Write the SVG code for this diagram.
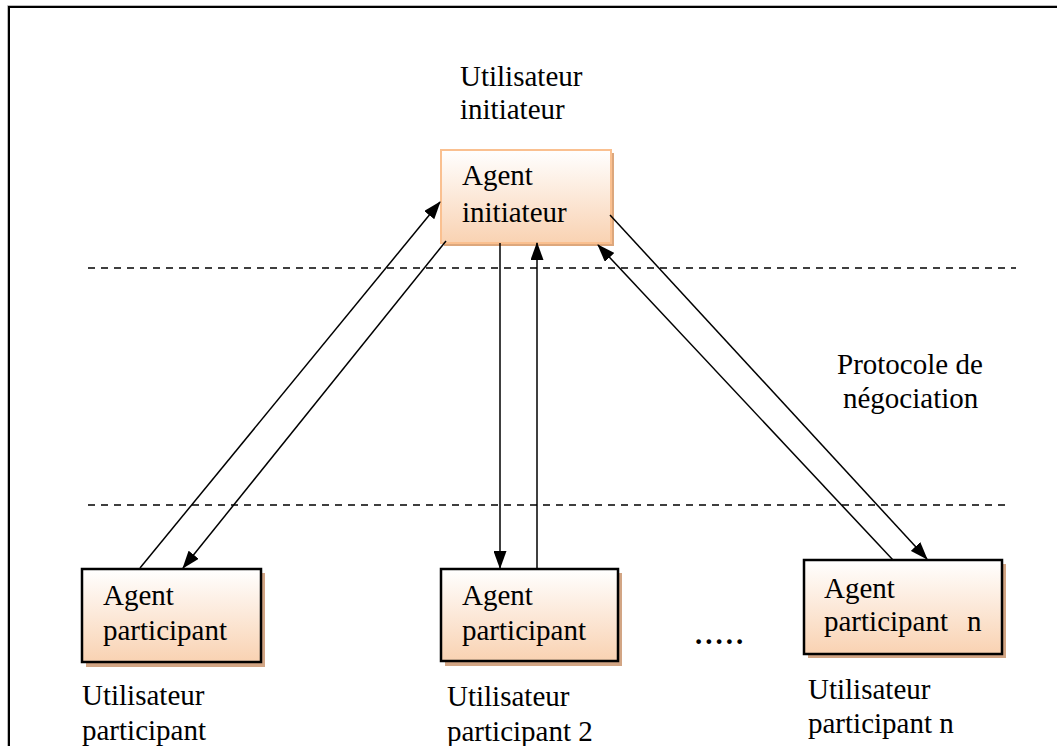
<svg xmlns="http://www.w3.org/2000/svg" width="1057" height="746" viewBox="0 0 1057 746">
<style>
text{font-family:"Liberation Serif","Times New Roman",serif;font-size:29px;fill:#000}
.dash{stroke:#000;stroke-width:1.5;stroke-dasharray:7 6;fill:none}
.conn{stroke:#000;stroke-width:1.5;fill:none}
.pbox{fill:url(#gp);stroke:#000;stroke-width:2.5}
.pshadow{fill:#D2A584}
</style>
<defs>
<linearGradient id="gp" x1="0" y1="0" x2="0" y2="1">
<stop offset="0" stop-color="#FFFFFF"/>
<stop offset="1" stop-color="#F9D2B2"/>
</linearGradient>
<marker id="ah" markerWidth="18" markerHeight="13" refX="17" refY="6.5" orient="auto" markerUnits="userSpaceOnUse">
<path d="M0,0 L18,6.5 L0,13 Z" fill="#000"/>
</marker>
</defs>
<rect width="1057" height="746" fill="#fff"/>
<g id="frame">
<path d="M7.5,746 V5.5 H1057" stroke="#bbb" stroke-width="1" fill="none"/>
<path d="M9,746 V7 H1057" stroke="#000" stroke-width="2" fill="none"/>
</g>
<g id="separators">
<line class="dash" x1="88" y1="268" x2="1016" y2="268"/>
<line class="dash" x1="88" y1="505" x2="1010" y2="505"/>
</g>
<g id="label-initiateur">
<text x="460" y="86">Utilisateur</text>
<text x="460" y="119">initiateur</text>
</g>
<g id="agent-initiateur">
<rect x="444" y="153" width="170" height="93" fill="#DDA77C"/>
<rect x="441" y="150" width="170" height="93" fill="url(#gp)" stroke="#FAC090" stroke-width="2"/>
<text x="462" y="185">Agent</text>
<text x="462" y="222">initiateur</text>
</g>
<g id="label-protocole">
<text x="837" y="374">Protocole de</text>
<text x="843" y="408">négociation</text>
</g>
<g id="agent-participant-1">
<rect class="pshadow" x="86" y="573" width="179" height="94"/>
<rect class="pbox" x="82" y="569" width="179" height="93"/>
<text x="103" y="605">Agent</text>
<text x="103" y="640">participant</text>
</g>
<g id="label-participant-1">
<text x="82" y="705">Utilisateur</text>
<text x="82" y="740">participant</text>
</g>
<g id="agent-participant-2">
<rect class="pshadow" x="445" y="573" width="177" height="93"/>
<rect class="pbox" x="441" y="569" width="177" height="92"/>
<text x="462" y="605">Agent</text>
<text x="462" y="640">participant</text>
</g>
<g id="label-participant-2">
<text x="447" y="706">Utilisateur</text>
<text x="447" y="741">participant 2</text>
</g>
<g id="agent-participant-n">
<rect class="pshadow" x="808" y="564" width="198" height="94"/>
<rect class="pbox" x="804" y="560" width="198" height="94"/>
<text x="824" y="598">Agent</text>
<text x="824" y="631">participant<tspan x="967">n</tspan></text>
</g>
<g id="label-participant-n">
<text x="808" y="699">Utilisateur</text>
<text x="808" y="733">participant n</text>
</g>
<g id="ellipsis">
<text x="695" y="644" font-weight="bold" font-size="32" letter-spacing="3">.....</text>
</g>
<g id="connectors">
<line class="conn" x1="140" y1="568" x2="440" y2="202" marker-end="url(#ah)"/>
<line class="conn" x1="446" y1="241" x2="183" y2="568" marker-end="url(#ah)"/>
<line class="conn" x1="500" y1="243" x2="500" y2="568" marker-end="url(#ah)"/>
<line class="conn" x1="537" y1="569" x2="537" y2="243" marker-end="url(#ah)"/>
<line class="conn" x1="610" y1="215" x2="927" y2="559" marker-end="url(#ah)"/>
<line class="conn" x1="893" y1="560" x2="598" y2="245" marker-end="url(#ah)"/>
</g>
</svg>
